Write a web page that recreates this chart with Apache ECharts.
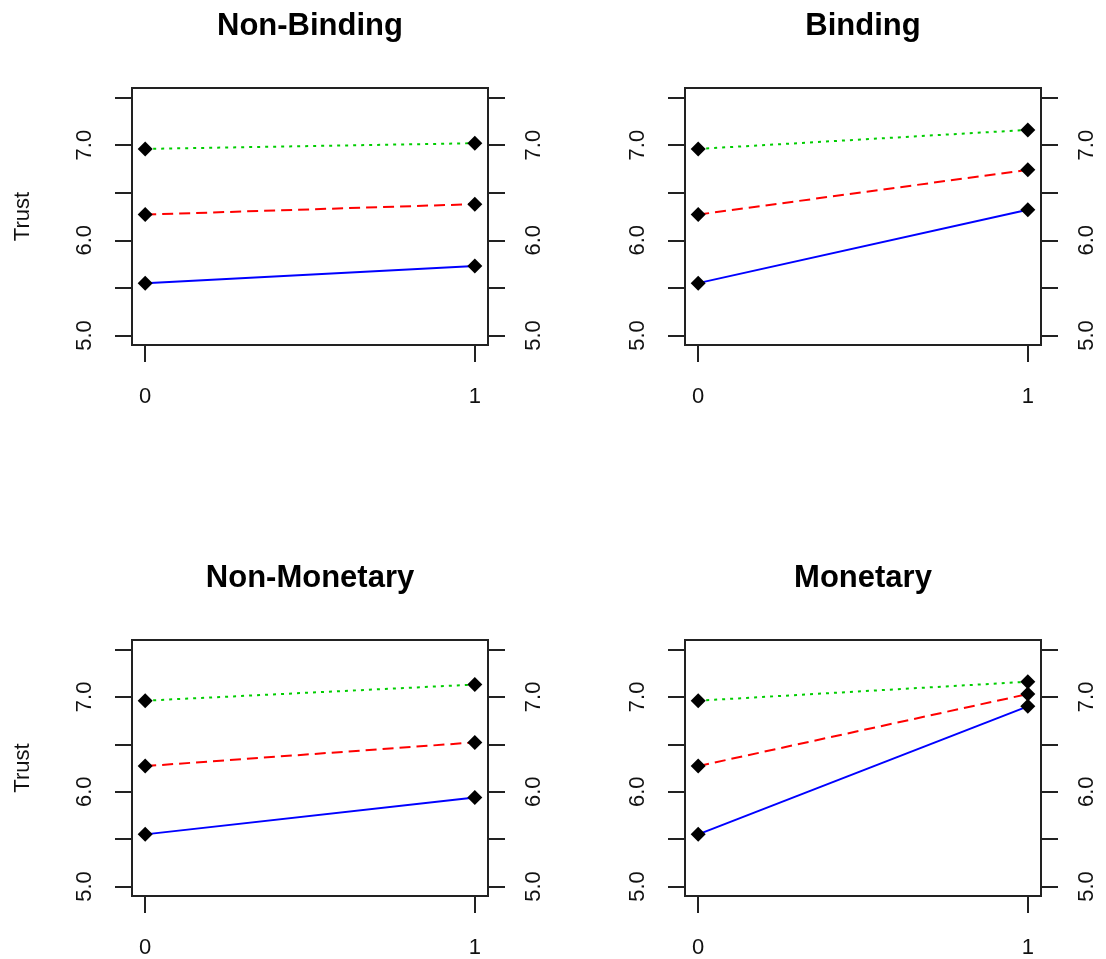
<!DOCTYPE html>
<html>
<head>
<meta charset="utf-8">
<script src="https://cdn.jsdelivr.net/npm/echarts@6/dist/echarts.min.js"></script>
<style>
  html, body { margin: 0; padding: 0; background: #fff; }
  #main { width: 1106px; height: 959px; }
</style>
</head>
<body>
<div id="main"></div>
<script>
// panel titles, x positions and the three lines per panel
const panelTitles = ['Non-Binding', 'Binding', 'Non-Monetary', 'Monetary'];
const xValues = [0, 1];
const blueLine = [[5.55, 5.73], [5.55, 6.32], [5.55, 5.94], [5.55, 6.90]];
const redLine = [[6.27, 6.38], [6.27, 6.74], [6.27, 6.52], [6.27, 7.03]];
const greenLine = [[6.96, 7.02], [6.96, 7.16], [6.96, 7.13], [6.96, 7.16]];
const yTicks = [5, 5.5, 6, 6.5, 7, 7.5];
const yLabels = [5, 6, 7];
const yName = 'Trust';

const font = 'Liberation Sans, Arial, sans-serif';
const ink = '#222';

// 线型: 实线 / 虚线 / 点线
const lineDefs = [
  { data: blueLine, color: '#0000FF', type: 'solid' },
  { data: redLine, color: '#FF0000', type: [11, 6] },
  { data: greenLine, color: '#00CD00', type: [3, 5] }
];

const grids = [], xAxes = [], yAxes = [], series = [], titles = [];

panelTitles.forEach((t, i) => {
  const col = i % 2, row = Math.floor(i / 2);
  const left = 132 + col * 553;
  const top = 88 + row * 552;
  grids.push({
    left: left, top: top, width: 356, height: 257,
    show: true, borderColor: ink, borderWidth: 2, backgroundColor: 'transparent'
  });
  titles.push({
    text: t,
    left: left + 178, top: 11 + row * 552, textAlign: 'center', padding: 0,
    textStyle: { fontFamily: font, fontSize: 31, fontWeight: 'bold', color: '#000' }
  });
  xAxes.push({
    type: 'value', gridIndex: i, min: -0.04, max: 1.04,
    axisLine: { show: false, onZero: false },
    splitLine: { show: false },
    axisTick: { customValues: xValues, length: 17, lineStyle: { color: ink, width: 2 } },
    axisLabel: { customValues: xValues, margin: 41, fontFamily: font, fontSize: 22, color: '#111' }
  });
  ['left', 'right'].forEach(pos => {
    yAxes.push({
      type: 'value', gridIndex: i, position: pos, min: 4.9, max: 7.6,
      name: (pos === 'left' && col === 0) ? yName : '',
      nameLocation: 'middle', nameGap: 98,
      nameTextStyle: { fontFamily: font, fontSize: 22, color: '#111' },
      axisLine: { show: false, onZero: false },
      splitLine: { show: false },
      axisTick: { customValues: yTicks, length: 17, lineStyle: { color: ink, width: 2 } },
      axisLabel: {
        customValues: yLabels, rotate: 90, margin: pos === 'left' ? 36 : 35,
        formatter: v => v.toFixed(1),
        fontFamily: font, fontSize: 22, color: '#111'
      }
    });
  });
  lineDefs.forEach(d => {
    series.push({
      type: 'line', xAxisIndex: i, yAxisIndex: i * 2,
      data: xValues.map((x, k) => [x, d.data[i][k]]),
      symbol: 'diamond', symbolSize: 15,
      itemStyle: { color: '#000' },
      lineStyle: { color: d.color, width: 2, type: d.type },
      z: 3
    });
  });
});

const chart = echarts.init(document.getElementById('main'));
chart.setOption({
  animation: false,
  backgroundColor: '#fff',
  title: titles,
  grid: grids,
  xAxis: xAxes,
  yAxis: yAxes,
  series: series
});
</script>
</body>
</html>
